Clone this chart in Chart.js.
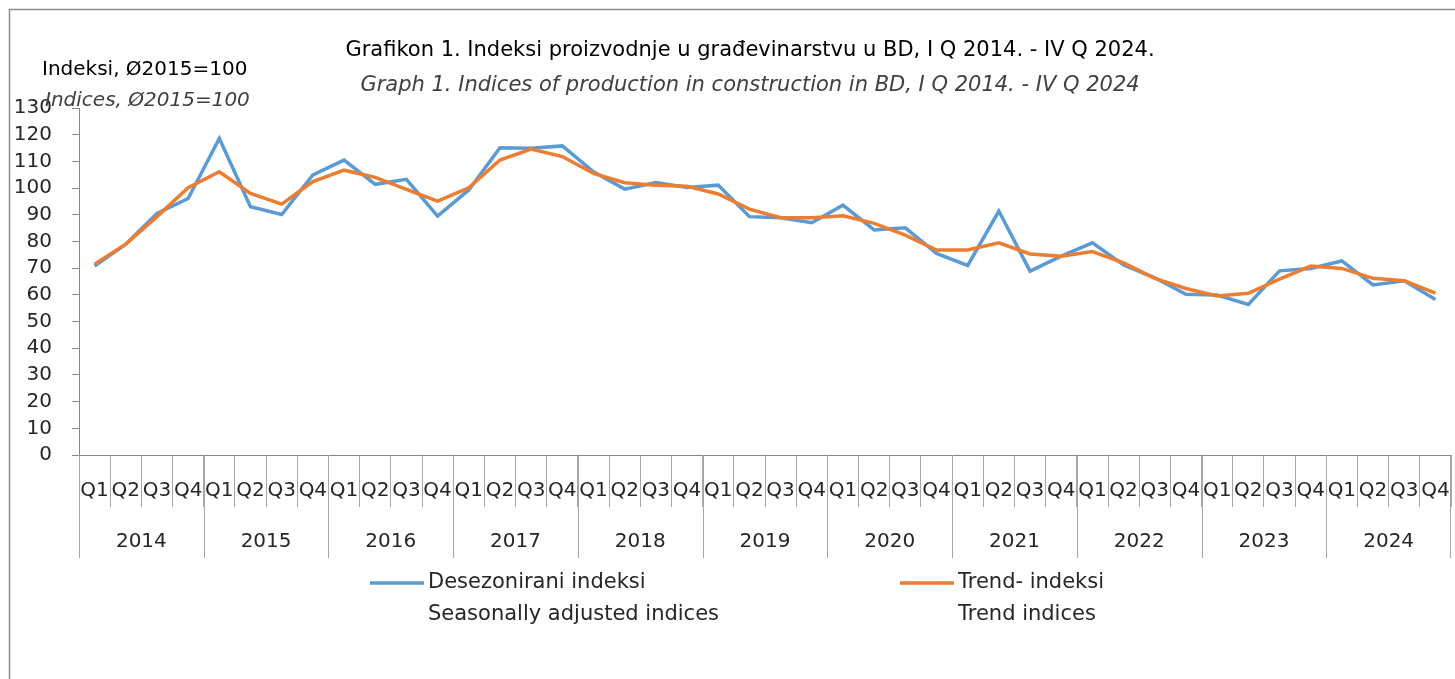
<!DOCTYPE html>
<html>
<head>
<meta charset="utf-8">
<title>Grafikon 1</title>
<script src="https://cdn.jsdelivr.net/npm/chart.js@4.4.1/dist/chart.umd.min.js"></script>
<style>
  body { margin: 0; background: #fff; }
  #wrap { width: 1455px; height: 679px; position: relative; }
</style>
</head>
<body>
<div id="wrap"><canvas id="chart"></canvas></div>
<script>
// data
const years = ["2014", "2015", "2016", "2017", "2018", "2019", "2020", "2021", "2022", "2023", "2024"];
const quarterNames = ["Q1", "Q2", "Q3", "Q4"];

const seasonallyAdjusted = [
    70.8, 79.0, 90.5, 96.1,
    118.6, 93.0, 90.1, 104.9,
    110.5, 101.4, 103.3, 89.5,
    99.3, 115.1, 114.9, 115.8,
    106.1, 99.6, 102.1, 100.2,
    101.1, 89.3, 88.9, 87.0,
    93.6, 84.3, 85.1, 75.5,
    71.0, 91.4, 68.9, 74.5,
    79.5, 71.2, 66.4, 60.2,
    59.9, 56.4, 69.0, 69.9,
    72.7, 63.7, 65.3, 58.3
];

const trend = [
    71.5, 79.0, 89.3, 100.1,
    106.1, 98.0, 94.0, 102.4,
    106.7, 104.0, 99.5, 95.1,
    100.1, 110.5, 114.6, 111.8,
    105.5, 102.0, 101.1, 100.7,
    97.8, 92.1, 88.9, 88.9,
    89.6, 86.8, 82.4, 76.8,
    76.8, 79.5, 75.3, 74.5,
    76.2, 72.0, 66.2, 62.4,
    59.6, 60.6, 65.9, 70.8,
    69.9, 66.2, 65.3, 60.6
];

const seriesLabels = [
    ["Desezonirani indeksi", "Seasonally adjusted indices"],
    ["Trend- indeksi", "Trend indices"]
];

const titleLines = [
    "Grafikon 1. Indeksi proizvodnje u građevinarstvu u BD, I Q 2014. - IV Q 2024.",
    "Graph 1. Indices of production in construction in BD, I Q 2014. - IV Q 2024"
];
const axisTitleLines = ["Indeksi, Ø2015=100", "Indices, Ø2015=100"];

// quarter tick labels, one per point
const quarterLabels = years.flatMap(() => quarterNames);

const FONT = "'DejaVu Sans', sans-serif";
const GRID = "#a6a6a6";

// draws frame, titles, year row and the legend
const extrasPlugin = {
    id: "extras",
    afterDraw(chart) {
        const ctx = chart.ctx;
        const x = chart.scales.x;
        const half = (x.getPixelForValue(1) - x.getPixelForValue(0)) / 2;
        ctx.save();

        // outer frame
        ctx.strokeStyle = "#8c8c8c";
        ctx.lineWidth = 1.5;
        ctx.beginPath();
        ctx.moveTo(9.5, 679);
        ctx.lineTo(9.5, 9.5);
        ctx.lineTo(1455, 9.5);
        ctx.stroke();

        // titles
        ctx.textBaseline = "middle";
        ctx.textAlign = "center";
        ctx.fillStyle = "#000";
        ctx.font = "21px " + FONT;
        ctx.fillText(titleLines[0], 750, 51);
        ctx.fillStyle = "#404040";
        ctx.font = "italic 21px " + FONT;
        ctx.fillText(titleLines[1], 750, 86);

        ctx.textAlign = "left";
        ctx.fillStyle = "#000";
        ctx.font = "20px " + FONT;
        ctx.fillText(axisTitleLines[0], 42, 70);
        ctx.fillStyle = "#404040";
        ctx.font = "italic 20px " + FONT;
        ctx.fillText(axisTitleLines[1], 45, 101);

        // year separators and labels
        ctx.strokeStyle = GRID;
        ctx.lineWidth = 1;
        ctx.fillStyle = "#262626";
        ctx.font = "20px " + FONT;
        ctx.textAlign = "center";
        years.forEach((yr, k) => {
            const first = x.getPixelForValue(k * 4);
            const last = x.getPixelForValue(k * 4 + 3);
            const left = Math.round(first - half) + 0.5;
            ctx.beginPath();
            ctx.moveTo(left, x.top);
            ctx.lineTo(left, x.top + 103);
            ctx.stroke();
            ctx.fillText(yr, (first + last) / 2, 542);
        });
        const right = Math.round(x.getPixelForValue(quarterLabels.length - 1) + half) - 0.5;
        ctx.beginPath();
        ctx.moveTo(right, x.top);
        ctx.lineTo(right, x.top + 103);
        ctx.stroke();

        // legend
        const legendX = [370, 900];
        ctx.font = "21px " + FONT;
        chart.data.datasets.forEach((ds, i) => {
            ctx.strokeStyle = ds.borderColor;
            ctx.lineWidth = 3.5;
            ctx.beginPath();
            ctx.moveTo(legendX[i], 583);
            ctx.lineTo(legendX[i] + 54, 583);
            ctx.stroke();
            ctx.fillStyle = "#262626";
            ctx.textAlign = "left";
            ctx.fillText(ds.label[0], legendX[i] + 58, 583);
            ctx.fillText(ds.label[1], legendX[i] + 58, 615);
        });

        ctx.restore();
    }
};

new Chart(document.getElementById("chart"), {
    type: "line",
    data: {
        labels: quarterLabels,
        datasets: [
            {
                label: seriesLabels[0],
                data: seasonallyAdjusted,
                borderColor: "#5b9bd5",
                borderWidth: 3.5,
                pointRadius: 0,
                fill: false,
                order: 2
            },
            {
                label: seriesLabels[1],
                data: trend,
                borderColor: "#ed7d31",
                borderWidth: 3.5,
                pointRadius: 0,
                fill: false,
                order: 1
            }
        ]
    },
    options: {
        responsive: true,
        maintainAspectRatio: false,
        animation: false,
        layout: { padding: { left: 0, top: 108, right: 4, bottom: 121 } },
        plugins: {
            legend: { display: false },
            title: { display: false },
            tooltip: { enabled: false }
        },
        scales: {
            x: {
                type: "category",
                offset: true,
                grid: {
                    offset: true,
                    drawOnChartArea: false,
                    tickLength: 52,
                    color: GRID
                },
                border: { color: "#868686" },
                ticks: {
                    autoSkip: false,
                    maxRotation: 0,
                    padding: -28,
                    color: "#262626",
                    font: { family: FONT, size: 20 }
                },
                afterFit(s) { s.height = 103; }
            },
            y: {
                min: 0,
                max: 130,
                ticks: {
                    stepSize: 10,
                    autoSkip: false,
                    padding: 20,
                    color: "#262626",
                    font: { family: FONT, size: 20 }
                },
                grid: {
                    drawOnChartArea: false,
                    tickLength: 7,
                    color: "#868686"
                },
                border: { color: "#868686" },
                afterFit(s) { s.width = 79; }
            }
        }
    },
    plugins: [extrasPlugin]
});
</script>
</body>
</html>
